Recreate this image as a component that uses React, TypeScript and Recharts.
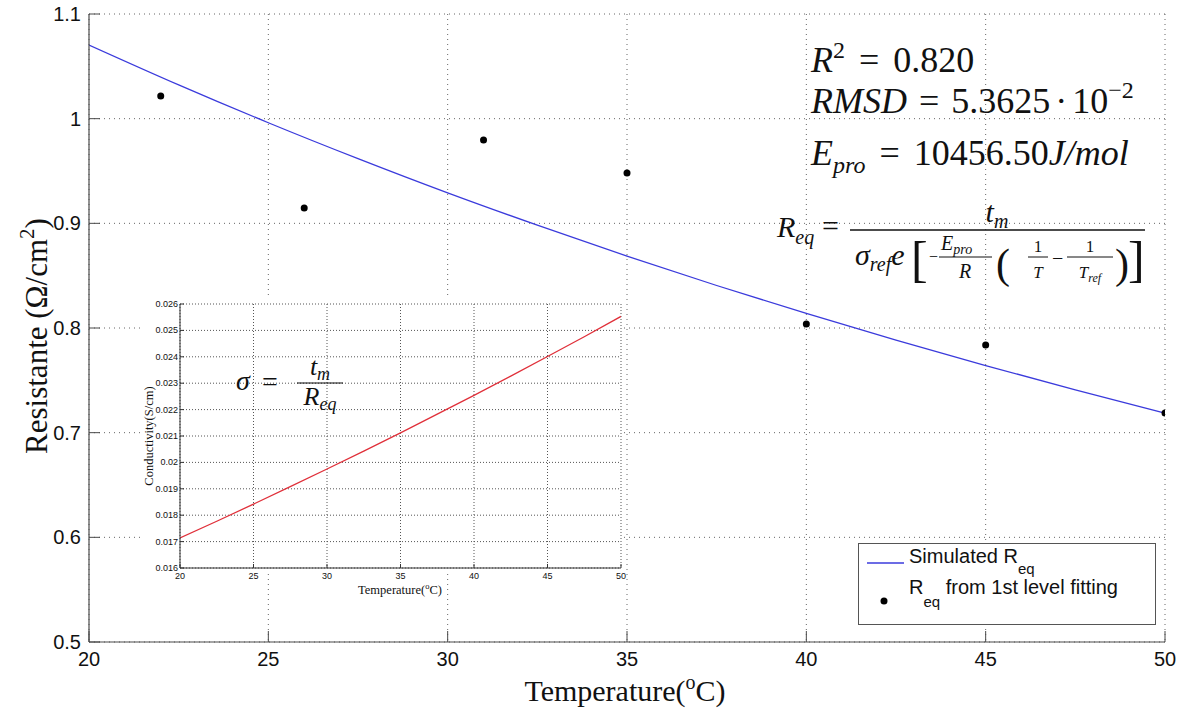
import React from 'react';
import { ComposedChart, Line, Scatter, XAxis, YAxis, CartesianGrid, Legend } from 'recharts';

// ---- data ----
const curveTemps = [20, 22.5, 25, 27.5, 30, 32.5, 35, 37.5, 40, 42.5, 45, 47.5, 50];
const simulatedReq = [1.0704, 1.0323, 0.9961, 0.9618, 0.9291, 0.8982, 0.8687, 0.8406, 0.8139, 0.7884, 0.7641, 0.7409, 0.7187];
const fitTemps = [22, 26, 31, 35, 40, 45, 50];
const fittedReq = [1.0217, 0.9146, 0.9796, 0.948, 0.8038, 0.7838, 0.7188];
const insetTemps = [20, 22.5, 25, 27.5, 30, 32.5, 35, 37.5, 40, 42.5, 45, 47.5, 50];
const conductivity = [0.01714, 0.01777, 0.01842, 0.01908, 0.01975, 0.02043, 0.02112, 0.02183, 0.02254, 0.02327, 0.02401, 0.02476, 0.02553];
const mainXTicks = [20, 25, 30, 35, 40, 45, 50];
const mainYTicks = [0.5, 0.6, 0.7, 0.8, 0.9, 1, 1.1];
const insetXTicks = [20, 25, 30, 35, 40, 45, 50];
const insetYTicks = [0.016, 0.017, 0.018, 0.019, 0.02, 0.021, 0.022, 0.023, 0.024, 0.025, 0.026];

const curveData = curveTemps.map((t, i) => ({ t, r: simulatedReq[i] }));
const fitData = fitTemps.map((t, i) => ({ t, r: fittedReq[i] }));
const insetData = insetTemps.map((t, i) => ({ t, s: conductivity[i] }));

const SANS = "'Liberation Sans', Arial, Helvetica, sans-serif";
const SERIF = "'Liberation Serif', 'Times New Roman', serif";
const AX = '#4a4a4a';

const MainBottomTick = (p: any) => (
  <g>
    <line x1={p.x} y1={p.y} x2={p.x} y2={p.y - 11} stroke={AX} strokeWidth={1} />
    <text x={p.x} y={p.y + 24} textAnchor="middle" fontSize={20} fontFamily={SANS} fill="#111">{String(p.payload.value)}</text>
  </g>
);
const MainLeftTick = (p: any) => (
  <g>
    <line x1={p.x} y1={p.y} x2={p.x + 11} y2={p.y} stroke={AX} strokeWidth={1} />
    <text x={p.x - 8} y={p.y + 7} textAnchor="end" fontSize={20} fontFamily={SANS} fill="#111">{String(p.payload.value)}</text>
  </g>
);
const MainTopTick = (p: any) => (
  <line x1={p.x} y1={p.y} x2={p.x} y2={p.y + 11} stroke={AX} strokeWidth={1} />
);
const MainRightTick = (p: any) => (
  <line x1={p.x} y1={p.y} x2={p.x - 11} y2={p.y} stroke={AX} strokeWidth={1} />
);

const InsetBottomTick = (p: any) => (
  <g>
    <line x1={p.x} y1={p.y} x2={p.x} y2={p.y - 4} stroke="#333" strokeWidth={1} />
    <text x={p.x} y={p.y + 11} textAnchor="middle" fontSize={9} fontFamily={SANS} fill="#111">{String(p.payload.value)}</text>
  </g>
);
const InsetLeftTick = (p: any) => (
  <g>
    <line x1={p.x} y1={p.y} x2={p.x + 4} y2={p.y} stroke="#333" strokeWidth={1} />
    <text x={p.x - 2} y={p.y + 3} textAnchor="end" fontSize={9} fontFamily={SANS} fill="#111">{String(p.payload.value)}</text>
  </g>
);
const InsetTopTick = (p: any) => (
  <line x1={p.x} y1={p.y} x2={p.x} y2={p.y + 4} stroke="#333" strokeWidth={1} />
);
const InsetRightTick = (p: any) => (
  <line x1={p.x} y1={p.y} x2={p.x - 4} y2={p.y} stroke="#333" strokeWidth={1} />
);

const FitDot = (p: any) => <circle cx={p.cx} cy={p.cy} r={3.5} fill="#000" />;

const LegendBox = () => (
  <div style={{ width: 298, height: 82, border: '1px solid #555', background: '#fff', boxSizing: 'border-box' }}>
    <svg width={296} height={80} style={{ display: 'block' }}>
      <line x1={8} y1={19} x2={45} y2={19} stroke="#3b3bdc" strokeWidth={1.3} />
      <text x={50} y={19} fontSize={20} fontFamily={SANS} fill="#111">
        Simulated R<tspan fontSize={15} dy={11}>eq</tspan>
      </text>
      <circle cx={25} cy={57} r={3.5} fill="#000" />
      <text x={50} y={50} fontSize={20} fontFamily={SANS} fill="#111">
        R<tspan fontSize={15} dy={13}>eq</tspan><tspan dy={-13}> from 1st level fitting</tspan>
      </text>
    </svg>
  </div>
);

const Annotations = () => (
  <svg width={1183} height={710} style={{ position: 'absolute', left: 0, top: 0, pointerEvents: 'none' }}>
    {/* main axis titles */}
    <text x={625} y={701} textAnchor="middle" fontSize={30} fontFamily={SERIF} fill="#111">
      Temperature(<tspan fontSize={20} dy={-12}>o</tspan><tspan dy={12}>C)</tspan>
    </text>
    <text transform="translate(47,336) rotate(-90)" textAnchor="middle" fontSize={31} fontFamily={SERIF} fill="#111">
      Resistante (Ω/cm<tspan fontSize={21} dy={-13}>2</tspan><tspan dy={13}>)</tspan>
    </text>

    {/* statistics */}
    <g fontFamily={SERIF} fill="#111">
      <text x={811} y={72} fontSize={36}>
        <tspan fontStyle="italic">R</tspan>
        <tspan fontSize={24} dy={-14}>2</tspan>
        <tspan dy={14} dx={14}>=</tspan>
        <tspan dx={14}>0.820</tspan>
      </text>
      <text x={811} y={113} fontSize={36}>
        <tspan fontStyle="italic">RMSD</tspan>
        <tspan dx={12}>=</tspan>
        <tspan dx={12}>5.3625</tspan>
        <tspan dx={5}>·</tspan>
        <tspan dx={5}>10</tspan>
        <tspan fontSize={24} dy={-15}>−2</tspan>
      </text>
      <text x={811} y={165} fontSize={36}>
        <tspan fontStyle="italic">E</tspan>
        <tspan fontStyle="italic" fontSize={24} dy={8}>pro</tspan>
        <tspan dy={-8} dx={14}>=</tspan>
        <tspan dx={14}>10456.50</tspan>
        <tspan fontStyle="italic">J/mol</tspan>
      </text>

      {/* R_eq formula */}
      <text x={777} y={237} fontSize={30}>
        <tspan fontStyle="italic">R</tspan>
        <tspan fontStyle="italic" fontSize={20} dy={7}>eq</tspan>
      </text>
      <text x={822} y={236} fontSize={30}>=</text>
      <line x1={850} y1={230} x2={1145} y2={230} stroke="#111" strokeWidth={1.4} />
      <text x={997} y={222} fontSize={30} textAnchor="middle">
        <tspan fontStyle="italic">t</tspan>
        <tspan fontStyle="italic" fontSize={20} dy={6}>m</tspan>
      </text>
      <text x={855} y={265} fontSize={30}>
        <tspan fontStyle="italic">σ</tspan>
        <tspan fontStyle="italic" fontSize={20} dy={6}>ref</tspan>
        <tspan fontStyle="italic" dy={-6}>e</tspan>
      </text>
      <text x={911} y={276} fontSize={50}>[</text>
      <text x={929} y={262} fontSize={16}>−</text>
      <text x={941} y={250} fontSize={20}>
        <tspan fontStyle="italic">E</tspan>
        <tspan fontStyle="italic" fontSize={14} dy={4}>pro</tspan>
      </text>
      <line x1={939} y1={257} x2={992} y2={257} stroke="#111" strokeWidth={1} />
      <text x={965} y={278} fontSize={20} textAnchor="middle" fontStyle="italic">R</text>
      <text x={996} y={278} fontSize={42}>(</text>
      <text x={1038} y={252} fontSize={17} textAnchor="middle">1</text>
      <line x1={1028} y1={257} x2={1048} y2={257} stroke="#111" strokeWidth={1} />
      <text x={1038} y={278} fontSize={17} textAnchor="middle" fontStyle="italic">T</text>
      <text x={1052} y={265} fontSize={20}>−</text>
      <text x={1090} y={252} fontSize={17} textAnchor="middle">1</text>
      <line x1={1067} y1={257} x2={1113} y2={257} stroke="#111" strokeWidth={1} />
      <text x={1090} y={278} fontSize={17} textAnchor="middle">
        <tspan fontStyle="italic">T</tspan>
        <tspan fontStyle="italic" fontSize={12} dy={4}>ref</tspan>
      </text>
      <text x={1115} y={278} fontSize={42}>)</text>
      <text x={1128} y={276} fontSize={50}>]</text>
    </g>

    {/* inset titles & formula */}
    <text x={400} y={594} textAnchor="middle" fontSize={12.5} fontFamily={SERIF} fill="#111">
      Temperature(<tspan fontSize={8.5} dy={-5}>o</tspan><tspan dy={5}>C)</tspan>
    </text>
    <text transform="translate(153,436) rotate(-90)" textAnchor="middle" fontSize={12.5} fontFamily={SERIF} fill="#111">
      Conductivity(S/cm)
    </text>
    <g fontFamily={SERIF} fill="#111">
      <text x={236} y={390} fontSize={28} fontStyle="italic">σ</text>
      <text x={262} y={391} fontSize={28}>=</text>
      <line x1={297} y1={383} x2={343} y2={383} stroke="#111" strokeWidth={1.2} />
      <text x={320} y={375} fontSize={26} textAnchor="middle">
        <tspan fontStyle="italic">t</tspan>
        <tspan fontStyle="italic" fontSize={18} dy={5}>m</tspan>
      </text>
      <text x={320} y={405} fontSize={26} textAnchor="middle">
        <tspan fontStyle="italic">R</tspan>
        <tspan fontStyle="italic" fontSize={18} dy={5}>eq</tspan>
      </text>
    </g>
  </svg>
);

export default function App() {
  return (
    <div style={{ position: 'absolute', left: 0, top: 0, width: 1183, height: 710, background: '#fff', overflow: 'hidden' }}>
      <ComposedChart width={1183} height={710} margin={{ top: 14, right: 18, bottom: 38, left: 29 }}>
        <CartesianGrid stroke="#666" strokeDasharray="1 4" />
        <XAxis xAxisId={0} type="number" dataKey="t" domain={[20, 50]} ticks={mainXTicks} interval={0}
          tickSize={0} tickMargin={0} tickLine={false} tick={<MainBottomTick />}
          axisLine={{ stroke: AX, strokeWidth: 1.2 }} height={30} allowDataOverflow />
        <XAxis xAxisId="top" orientation="top" type="number" dataKey="t" domain={[20, 50]} ticks={mainXTicks} interval={0}
          tickSize={0} tickMargin={0} tickLine={false} tick={<MainTopTick />}
          axisLine={{ stroke: AX, strokeWidth: 1.2 }} height={0} allowDataOverflow />
        <YAxis yAxisId={0} type="number" dataKey="r" domain={[0.5, 1.1]} ticks={mainYTicks} interval={0}
          tickSize={0} tickMargin={0} tickLine={false} tick={<MainLeftTick />}
          axisLine={{ stroke: AX, strokeWidth: 1.2 }} width={60} allowDataOverflow />
        <YAxis yAxisId="right" orientation="right" type="number" dataKey="r" domain={[0.5, 1.1]} ticks={mainYTicks} interval={0}
          tickSize={0} tickMargin={0} tickLine={false} tick={<MainRightTick />}
          axisLine={{ stroke: AX, strokeWidth: 1.2 }} width={0} allowDataOverflow />
        <Line data={curveData} dataKey="r" name="Simulated Req" type="monotone" stroke="#3b3bdc" strokeWidth={1.3}
          dot={false} activeDot={false} isAnimationActive={false} />
        <Scatter data={fitData} dataKey="r" name="Req from 1st level fitting" fill="#000" shape={<FitDot />}
          isAnimationActive={false} />
        <Legend layout="vertical" align="center" verticalAlign="middle" content={<LegendBox />}
          wrapperStyle={{ left: 858, top: 543, width: 298, height: 82 }} />
      </ComposedChart>

      <div style={{ position: 'absolute', left: 143, top: 298, width: 481, height: 275, background: '#fff' }} />
      <div style={{ position: 'absolute', left: 130, top: 295 }}>
        <ComposedChart width={500} height={310} data={insetData} margin={{ top: 9, right: 9, bottom: 17, left: 10 }}>
          <CartesianGrid stroke="#555" strokeDasharray="1 2" />
          <XAxis xAxisId={0} type="number" dataKey="t" domain={[20, 50]} ticks={insetXTicks} interval={0}
            tickSize={0} tickMargin={0} tickLine={false} tick={<InsetBottomTick />}
            axisLine={{ stroke: '#333' }} height={20} allowDataOverflow />
          <XAxis xAxisId="top" orientation="top" type="number" dataKey="t" domain={[20, 50]} ticks={insetXTicks} interval={0}
            tickSize={0} tickMargin={0} tickLine={false} tick={<InsetTopTick />}
            axisLine={{ stroke: '#333' }} height={0} allowDataOverflow />
          <YAxis yAxisId={0} type="number" dataKey="s" domain={[0.016, 0.026]} ticks={insetYTicks} interval={0}
            tickSize={0} tickMargin={0} tickLine={false} tick={<InsetLeftTick />}
            axisLine={{ stroke: '#333' }} width={40} allowDataOverflow />
          <YAxis yAxisId="right" orientation="right" type="number" dataKey="s" domain={[0.016, 0.026]} ticks={insetYTicks} interval={0}
            tickSize={0} tickMargin={0} tickLine={false} tick={<InsetRightTick />}
            axisLine={{ stroke: '#333' }} width={0} allowDataOverflow />
          <Line dataKey="s" type="monotone" stroke="#e0303a" strokeWidth={1.3} dot={false} activeDot={false}
            isAnimationActive={false} />
        </ComposedChart>
      </div>

      <Annotations />
    </div>
  );
}
